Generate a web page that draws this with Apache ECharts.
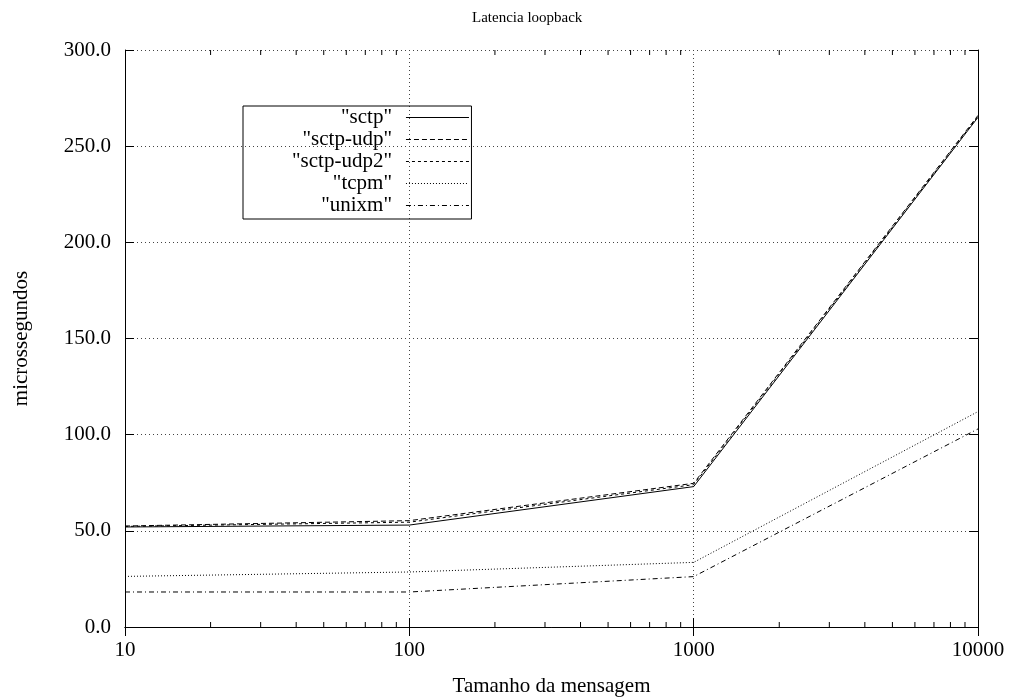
<!DOCTYPE html>
<html>
<head>
<meta charset="utf-8">
<script src="https://cdn.jsdelivr.net/npm/echarts@6/dist/echarts.min.js"></script>
<style>
  html, body { margin: 0; padding: 0; background: #fff; }
  #chart { width: 1013px; height: 700px; }
</style>
</head>
<body>
<div id="chart"></div>
<script>
// Message sizes (bytes) on a log axis
const sizes = [10, 100, 1000, 10000];
// Latency in microseconds for each transport
const sctp     = [52.0, 53.0, 73.0, 265.0];
const sctpUdp  = [52.5, 55.3, 74.7, 266.0];
const sctpUdp2 = [52.3, 54.5, 74.0, 265.5];
const tcpm     = [26.3, 28.6, 33.6, 112.0];
const unixm    = [18.2, 18.2, 26.2, 103.0];

const seriesNames = ['"sctp"', '"sctp-udp"', '"sctp-udp2"', '"tcpm"', '"unixm"'];
const yMin = 0, yMax = 300, yStep = 50;
const xMin = 10, xMax = 10000;
// Log minor ticks between decades
const minorTicks = [20, 30, 40, 50, 60, 70, 80, 90,
                    200, 300, 400, 500, 600, 700, 800, 900,
                    2000, 3000, 4000, 5000, 6000, 7000, 8000, 9000];

const FONT = 'Liberation Serif';
const pairs = ys => sizes.map((x, i) => [x, ys[i]]);

const lineSeries = (name, ys, dash) => ({
  name: name,
  type: 'line',
  data: pairs(ys),
  symbol: 'none',
  lineStyle: { color: '#000', width: 1, type: dash },
  itemStyle: { color: '#000' },
  animation: false,
  z: 3
});

const gridLine = { show: true, lineStyle: { color: '#444', width: 1, type: [1, 3] } };

const chart = echarts.init(document.getElementById('chart'), null, { renderer: 'canvas' });
chart.setOption({
  backgroundColor: '#fff',
  animation: false,
  title: {
    text: 'Latencia loopback',
    left: 467, top: 6,
    textStyle: { fontFamily: FONT, fontSize: 15, fontWeight: 'normal', color: '#000' }
  },
  grid: { left: 125, right: 35, top: 50, bottom: 73, outerBoundsMode: 'none', containLabel: false },
  legend: {
    data: seriesNames,
    orient: 'vertical',
    align: 'right',
    left: 243, top: 106,
    borderColor: '#000', borderWidth: 1,
    padding: [1, 2, 3, 49],
    itemWidth: 63, itemHeight: 14, itemGap: 1,
    selectedMode: false,
    lineStyle: { width: 1 },
    itemStyle: { color: 'rgba(0,0,0,0)', borderColor: 'rgba(0,0,0,0)', borderWidth: 0, opacity: 0 },
    textStyle: { fontFamily: FONT, fontSize: 21, color: '#000', padding: [0, 9, 0, 0] }
  },
  xAxis: [{
    type: 'log', logBase: 10, min: xMin, max: xMax, position: 'bottom',
    name: 'Tamanho da mensagem', nameLocation: 'middle', nameGap: 49,
    nameTextStyle: { fontFamily: FONT, fontSize: 21, color: '#000' },
    axisLine: { show: true, lineStyle: { color: '#000', width: 1 } },
    axisTick: { show: true, inside: true, length: 9, lineStyle: { color: '#000' } },
    axisLabel: { fontFamily: FONT, fontSize: 21, color: '#000', margin: 13,
                 formatter: v => String(Math.round(v)) },
    splitLine: gridLine
  }, {
    type: 'log', logBase: 10, min: xMin, max: xMax, position: 'top',
    axisLine: { show: true, lineStyle: { color: '#000', width: 1 } },
    axisTick: { show: true, inside: true, length: 9, lineStyle: { color: '#000' } },
    axisLabel: { show: false },
    splitLine: { show: false }
  }],
  yAxis: [{
    type: 'value', min: yMin, max: yMax, interval: yStep, position: 'left',
    name: 'microssegundos', nameLocation: 'middle', nameGap: 93,
    nameTextStyle: { fontFamily: FONT, fontSize: 21, color: '#000' },
    axisLine: { show: true, lineStyle: { color: '#000', width: 1 } },
    axisTick: { show: true, inside: true, length: 9, lineStyle: { color: '#000' } },
    axisLabel: { fontFamily: FONT, fontSize: 21, color: '#000', margin: 14,
                 formatter: v => v.toFixed(1) },
    splitLine: gridLine
  }, {
    type: 'value', min: yMin, max: yMax, interval: yStep, position: 'right',
    axisLine: { show: true, lineStyle: { color: '#000', width: 1 } },
    axisTick: { show: true, inside: true, length: 9, lineStyle: { color: '#000' } },
    axisLabel: { show: false },
    splitLine: { show: false }
  }],
  series: [
    lineSeries(seriesNames[0], sctp, 'solid'),
    lineSeries(seriesNames[1], sctpUdp, [5, 3]),
    lineSeries(seriesNames[2], sctpUdp2, [3, 3]),
    lineSeries(seriesNames[3], tcpm, [1, 2]),
    lineSeries(seriesNames[4], unixm, [5, 3, 1, 3]),
    {
      // minor ticks on the bottom and top log axes
      type: 'custom',
      silent: true,
      data: minorTicks.map(v => [v, yMin]),
      renderItem: (params, api) => {
        const x = api.value(0);
        const b = api.coord([x, yMin]);
        const t = api.coord([x, yMax]);
        const style = { stroke: '#000', lineWidth: 1 };
        return {
          type: 'group',
          children: [
            { type: 'line', shape: { x1: b[0], y1: b[1], x2: b[0], y2: b[1] - 5 }, style: style },
            { type: 'line', shape: { x1: t[0], y1: t[1], x2: t[0], y2: t[1] + 5 }, style: style }
          ]
        };
      },
      z: 4
    }
  ]
});
</script>
</body>
</html>
